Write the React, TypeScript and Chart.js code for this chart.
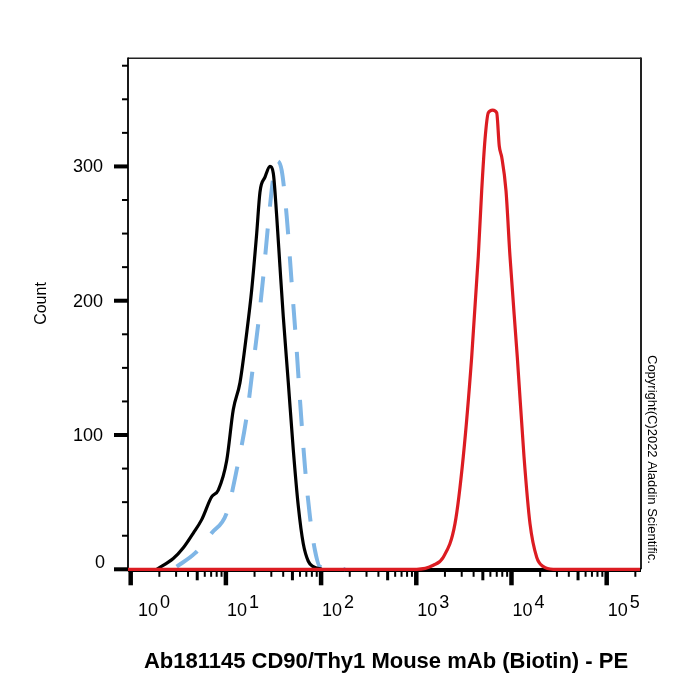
import React, { useEffect, useRef } from 'react';
import { Chart, registerables } from 'chart.js';

Chart.register(...registerables);

const FONT = '"Liberation Sans", Arial, Helvetica, sans-serif';

// Fluorescence intensity (PE) and event counts for each histogram
const redIntensity = [0.937, 1010, 1509, 1921, 2550, 3117, 3818, 4479, 4864, 5268, 5707, 6345, 6990, 7444, 7893, 8755, 9643, 11508, 13531, 15643, 18396, 21578, 27488, 223800];
const redCount = [0, 0, 3, 9, 34, 84, 158, 233, 282, 320, 340, 342, 340, 315, 307, 282, 233, 158, 84, 34, 9, 2, 0, 0];

const blackIntensity = [1.88, 2.8, 3.57, 4.55, 5.57, 7.09, 8.32, 10.2, 11.96, 14.06, 16.54, 18.66, 21.06, 22.81, 25.75, 29.06, 31.47, 34.17, 37.01, 40.09, 45.24, 51.05, 57.62, 65.01, 73.37, 82.79, 101.5];
const blackCount = [0, 8, 16, 27, 37, 54, 59, 81, 119, 139, 176, 208, 250, 281, 292, 300, 295, 263, 225, 188, 139, 89, 47, 19, 6, 2, 0];

const blueIntensity = [3.04, 4.74, 7.09, 10.2, 12.98, 16.54, 19.4, 21.89, 24.71, 27.89, 31.47, 34.17, 38.56, 43.52, 49.12, 55.43, 60.04, 67.75, 76.45, 86.29, 97.4, 115, 146, 178];
const blueCount = [2, 12, 27, 42, 74, 114, 153, 183, 218, 258, 292, 304, 297, 263, 213, 163, 126, 76, 39, 14, 2, 1.5, 1.5, 0];

// Axis ranges and ticks
const X_MIN = 0.937;
const X_MAX = 223800;
const Y_MAX = 380;
const xDecades = [1, 10, 100, 1000, 10000, 100000];
const xDecadeExponents = ['0', '1', '2', '3', '4', '5'];
const xMinorMultipliers = [2, 3, 4, 5, 6, 7, 8, 9];
const yMajorTicks = [0, 100, 200, 300];
const yTickLabels = ['0', '100', '200', '300'];
const yMinorTicks = [25, 50, 75, 125, 150, 175, 225, 250, 275, 325, 350, 375];

const X_TITLE = 'Ab181145 CD90/Thy1 Mouse mAb (Biotin) - PE';
const Y_TITLE = 'Count';
const COPYRIGHT = 'Copyright(C)2022 Aladdin Scientific.';

const toPoints = (xs: number[], ys: number[]) => xs.map((x, i) => ({ x, y: ys[i] }));

const line = (ctx: CanvasRenderingContext2D, x1: number, y1: number, x2: number, y2: number, w: number) => {
  ctx.lineWidth = w;
  ctx.beginPath();
  ctx.moveTo(x1, y1);
  ctx.lineTo(x2, y2);
  ctx.stroke();
};

// Frame, axis lines and tick marks, drawn beneath the histograms
const axesPlugin = {
  id: 'flowAxes',
  beforeDatasetsDraw(chart: any) {
    const { ctx, chartArea: a, scales } = chart;
    const xs = scales.x;
    const ys = scales.y;
    const y0 = ys.getPixelForValue(0);
    ctx.save();
    ctx.lineCap = 'butt';

    ctx.strokeStyle = '#222';
    line(ctx, a.left, a.top - 0.7, a.right + 1, a.top - 0.7, 1.5);
    line(ctx, a.right + 1, a.top - 1.4, a.right + 1, y0, 2);

    ctx.strokeStyle = '#000';
    line(ctx, a.left, a.top - 1.4, a.left, y0, 1.8);
    line(ctx, a.left, y0 + 0.8, a.right + 1, y0 + 0.8, 4);

    // y ticks
    yMajorTicks.forEach((v) => {
      const py = ys.getPixelForValue(v);
      line(ctx, a.left - 14, py, a.left, py, 4);
    });
    yMinorTicks.forEach((v) => {
      const py = ys.getPixelForValue(v);
      line(ctx, a.left - 6, py, a.left, py, 2);
    });

    // x ticks (log decades)
    xDecades.forEach((d) => {
      const px = xs.getPixelForValue(d);
      line(ctx, px, y0, px, y0 + 16, 4.5);
      xMinorMultipliers.forEach((m) => {
        const v = d * m;
        if (v > X_MAX) return;
        const mx = xs.getPixelForValue(v);
        if (m === 5) line(ctx, mx, y0, mx, y0 + 11, 3);
        else line(ctx, mx, y0, mx, y0 + 7.5, 2);
      });
    });
    ctx.restore();
  },
  afterDraw(chart: any) {
    const { ctx, chartArea: a, scales } = chart;
    const xs = scales.x;
    const ys = scales.y;
    const y0 = ys.getPixelForValue(0);
    ctx.save();
    ctx.fillStyle = '#000';

    // y tick labels
    ctx.font = `18px ${FONT}`;
    ctx.textAlign = 'right';
    yMajorTicks.forEach((v, i) => {
      const py = ys.getPixelForValue(v);
      if (v === 0) {
        ctx.textBaseline = 'alphabetic';
        ctx.fillText(yTickLabels[i], a.left - 23, py - 1);
      } else {
        ctx.textBaseline = 'middle';
        ctx.fillText(yTickLabels[i], a.left - 25, py + 1);
      }
    });

    // x tick labels: 10 with a raised exponent
    ctx.textAlign = 'left';
    ctx.textBaseline = 'alphabetic';
    xDecades.forEach((d, i) => {
      let px = xs.getPixelForValue(d) + 1;
      px = Math.max(px, a.left + 10);
      ctx.font = `18px ${FONT}`;
      ctx.fillText('10', px, y0 + 46.5);
      const w = ctx.measureText('10').width;
      ctx.fillText(xDecadeExponents[i], px + w + 2, y0 + 38.5);
    });

    // x title
    ctx.font = `bold 22px ${FONT}`;
    ctx.textAlign = 'center';
    ctx.fillText(X_TITLE, (a.left + a.right) / 2 + 2, y0 + 99);

    // y title, its left edge cut by the page border
    ctx.save();
    ctx.beginPath();
    ctx.rect(33, 0, 700, 700);
    ctx.clip();
    ctx.translate(45.5, 303.5);
    ctx.rotate(-Math.PI / 2);
    ctx.font = `16px ${FONT}`;
    ctx.textAlign = 'center';
    ctx.fillText(Y_TITLE, 0, 0);
    ctx.restore();

    // copyright note along the right edge
    ctx.save();
    ctx.translate(a.right + 8, 355);
    ctx.rotate(Math.PI / 2);
    ctx.font = `13px ${FONT}`;
    ctx.textAlign = 'left';
    ctx.fillText(COPYRIGHT, 0, 0);
    ctx.restore();

    ctx.restore();
  },
};

export default function App() {
  const canvasRef = useRef<HTMLCanvasElement | null>(null);

  useEffect(() => {
    if (!canvasRef.current) return;
    const common = {
      fill: false,
      pointRadius: 0,
      pointHoverRadius: 0,
      cubicInterpolationMode: 'monotone' as const,
      clip: false as const,
    };
    const chart = new Chart(canvasRef.current, {
      type: 'line',
      data: {
        datasets: [
          { ...common, label: 'CD90/Thy1 - PE', data: toPoints(redIntensity, redCount), borderColor: '#dc1c22', borderWidth: 3.2 },
          { ...common, label: 'Blank', data: toPoints(blackIntensity, blackCount), borderColor: '#000000', borderWidth: 3.2 },
          { ...common, label: 'Isotype control', data: toPoints(blueIntensity, blueCount), borderColor: '#7fb6e6', borderWidth: 4, borderDash: [26, 22] },
        ],
      },
      options: {
        animation: false,
        responsive: false,
        devicePixelRatio: 1,
        layout: { padding: { left: 128, top: 59, right: 60, bottom: 130.7 } },
        scales: {
          x: { type: 'logarithmic', min: X_MIN, max: X_MAX, display: false },
          y: { type: 'linear', min: 0, max: Y_MAX, display: false },
        },
        plugins: { legend: { display: false }, tooltip: { enabled: false } },
      },
      plugins: [axesPlugin],
    });
    return () => chart.destroy();
  }, []);

  return (
    <div style={{ position: 'absolute', left: 0, top: 0, width: 700, height: 700, background: '#fff' }}>
      <canvas ref={canvasRef} width={700} height={700} style={{ display: 'block' }} />
    </div>
  );
}
